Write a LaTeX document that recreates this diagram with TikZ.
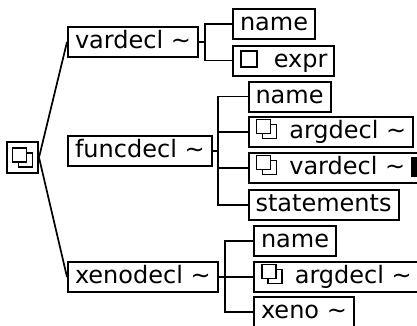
\documentclass[tikz,border=0pt]{standalone}
\usepackage{fontspec}
\setmainfont{DejaVu Sans}
\usetikzlibrary{positioning}

\newcommand{\singlesq}{\tikz[baseline=0pt]\draw[line width=1.8pt] (0,0) rectangle (16pt,16pt);}
\newcommand{\doublesq}{\tikz[baseline=0pt]{\draw[line width=1.8pt, fill=white] (6pt,0) rectangle (20pt,14pt); \draw[line width=1.8pt, fill=white] (0,5pt) rectangle (14pt,19pt);}}

\begin{document}
\begin{tikzpicture}[x=1pt, y=-1pt,
    box/.style={draw, rectangle, line width=2pt, minimum height=30pt, inner xsep=7pt, inner ysep=0pt,
        text height=18pt, text depth=5pt, anchor=west, font=\fontsize{24}{28}\selectfont},
    link/.style={line width=1.7pt}
]
\useasboundingbox (0,0) rectangle (417,325);

% Root
\node[box, anchor=center, minimum size=31pt, inner sep=0pt, text height=19pt, text depth=0pt] (root) at (22.5,157.5) {\doublesq};

% Declarations
\node[box] (vardecl) at (67,42) {vardecl \textasciitilde};
\node[box] (funcdecl) at (67,151) {funcdecl \textasciitilde};
\node[box] (xenodecl) at (67,277) {xenodecl \textasciitilde};

% Fields of vardecl
\node[box] (vname) at (232,24) {name};
\node[box] (vexpr) at (232,60.5) {\singlesq\hspace{16pt}expr};

% Fields of funcdecl
\node[box] (fname) at (247.5,96.5) {name};
\node[box] (fargs) at (247.5,132) {\doublesq\hspace{12pt}argdecl \textasciitilde};
\node[box] (fvars) at (247.5,168) {\doublesq\hspace{12pt}vardecl \textasciitilde\hspace{6pt}\rule[-2pt]{8pt}{20pt}};
\node[box] (fstmts) at (247.5,205) {statements};

% Fields of xenodecl
\node[box] (xname) at (253,241) {name};
\node[box] (xargs) at (253,277) {\doublesq\hspace{12pt}argdecl \textasciitilde};
\node[box] (xeno) at (253,312) {xeno \textasciitilde};

% Root links
\draw[link] (root.east) -- (vardecl.west);
\draw[link] (root.east) -- (xenodecl.west);

% Brackets
\coordinate[right=6pt of vardecl] (vjoin);
\draw[link] (vardecl) -- (vjoin);
\draw[link] (vjoin) |- (vname);
\draw[link] (vjoin) |- (vexpr);

\coordinate[right=5pt of funcdecl] (fjoin);
\draw[link] (funcdecl) -- (fjoin);
\draw[link] (fjoin) |- (fname);
\draw[link] (fjoin) |- (fargs);
\draw[link] (fjoin) |- (fvars);
\draw[link] (fjoin) |- (fstmts);

\coordinate[right=6pt of xenodecl] (xjoin);
\draw[link] (xenodecl) -- (xjoin);
\draw[link] (xjoin) |- (xname);
\draw[link] (xjoin) |- (xargs);
\draw[link] (xjoin) |- (xeno);

\end{tikzpicture}
\end{document}
